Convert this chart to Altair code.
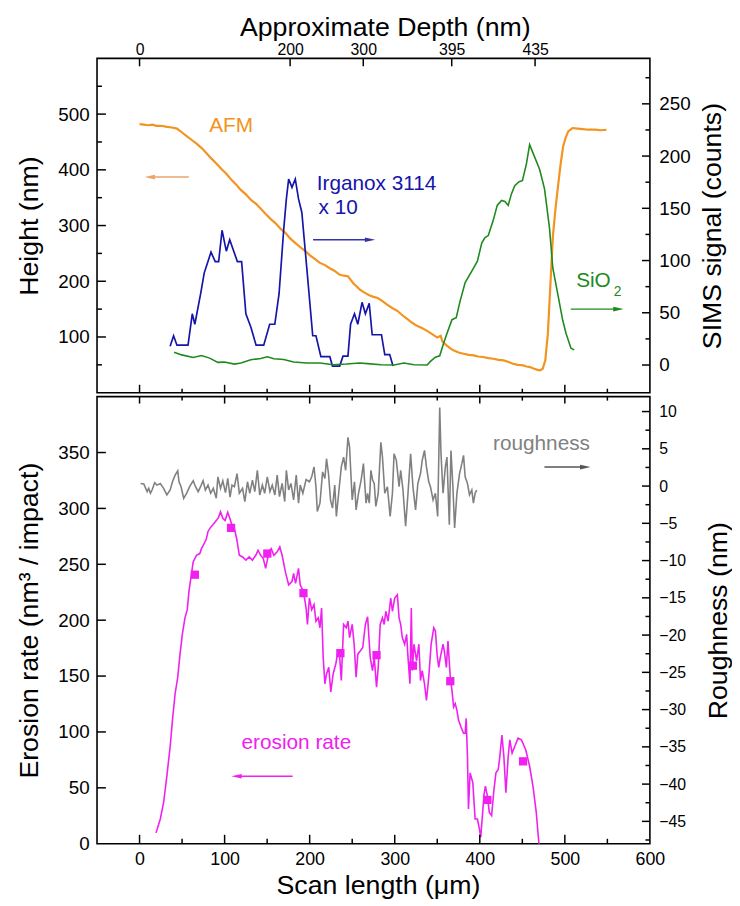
import altair as alt
import pandas as pd

FONT = "Liberation Sans"
W, H1, H2 = 559, 338, 452

# ---------------- data ----------------
afm_x = [0, 5, 10, 15, 20, 26, 32, 38, 44, 50, 55, 61, 67, 73, 78, 84, 90, 96, 102, 108, 114, 119, 125,
         131, 137, 142, 148, 154, 160, 166, 172, 177, 183, 189, 195, 200, 206, 212, 218, 224, 229, 235,
         240, 245, 248, 251, 255, 259, 264, 270, 275, 280, 286, 291, 297, 303, 309, 315, 320, 326, 332,
         338, 344, 350, 354, 356, 361, 365, 369, 375, 381, 387, 393, 398, 404, 410, 416, 422, 428, 434,
         439, 445, 451, 455, 459, 464, 468, 471, 474, 477, 480, 483, 486, 489, 492, 495, 498, 501, 504,
         509, 515, 521, 528, 536, 542, 549]
afm_y = [482, 481, 480, 481, 479, 479, 477, 476, 474, 467, 461, 454, 447, 439, 431, 421, 412, 402, 393,
         382, 373, 364, 356, 346, 339, 331, 321, 312, 304, 294, 286, 277, 269, 261, 254, 247, 240, 233,
         229, 223, 219, 212, 210, 209, 203, 197, 191, 185, 180, 175, 172, 170, 164, 158, 152, 147, 139,
         132, 126, 120, 116, 111, 105, 99, 102, 92, 85, 80, 76, 72, 70, 68, 67, 65, 64, 62, 61, 59, 58,
         55, 52, 50, 49, 47, 46, 43, 41, 40, 43, 58, 105, 194, 282, 330, 371, 410, 442, 458, 469, 475,
         474, 473, 472, 472, 471, 472]

irg_x = [36, 40, 44, 57, 62, 65, 72, 76, 84, 89, 93, 97, 102, 106, 115, 120, 125, 131, 137, 146, 153,
         159, 164, 169.5, 172.6, 175.3, 179.2, 183.1, 186.9, 190.8, 196.6, 203.6, 207.4, 213.2, 223.7,
         226.8, 235.3, 239.2, 245, 248.1, 252.7, 256.6, 261.6, 265.5, 270, 273.5, 284.4, 288.3, 294.1, 298]
irg_y = [18, 28, 19, 19, 49, 39, 69, 88, 108, 99, 99, 129, 109, 120, 99, 99, 49, 36, 19, 19, 39, 39, 68,
         130, 159, 178, 170, 178, 159, 146, 93, 28, 28, 8, 8, -1, -1, 8.5, 8.5, 39, 49, 39, 60, 49, 59,
         29, 29, 10, 10, -1]

sio_x = [40.6, 49.5, 63.1, 72.8, 82.4, 92.1, 99.8, 111.5, 119.2, 130.8, 142.4, 150.2, 157.9, 169.5,
         181.1, 196.6, 212.1, 227.6, 243.0, 258.5, 268.1, 283.7, 299.2, 310.9, 322.6, 338.1, 342.0,
         347.8, 352.9, 357.5, 361.4, 367.3, 372.3, 377.0, 382.8, 390.6, 397.2, 402.3, 406.1, 410.0,
         415.9, 420.5, 425.6, 429.5, 433.4, 437.2, 441.1, 446.2, 450.1, 454.7, 458.6, 462.5, 470.3,
         476.1, 482.0, 485.8, 491.7, 497.5, 501.4, 507.2, 511.1]
sio_y = [12.3, 9.7, 7.2, 9.1, 6.6, 2.5, 2.8, 0.9, 1.9, 5.0, 6.3, 7.9, 6.0, 5.3, 2.8, 1.9, 1.9, 0.3, 0.9,
         1.9, 1.3, 0.3, 0, 1.9, 0.3, 0, 3.5, 7.5, 8.8, 20.8, 30.2, 43.4, 45.3, 61.6, 78.9, 89.9, 99.4,
         116.7, 122.0, 123.9, 138.7, 152.8, 157.5, 156.6, 152.8, 163.8, 171.7, 175.5, 176.4, 192.1,
         211.0, 203.1, 187.4, 168.6, 130.8, 93.1, 67.9, 42.8, 30.2, 16.0, 14.5]

rough_x = [1.2, 5.0, 8.9, 10.8, 12.8, 14.7, 17.8, 20.5, 24.4, 28.3, 32.1, 36.0, 38.7, 41.8, 44.9, 46.4,
           48.8, 51.9, 55.3, 59.2, 63.1, 65.8, 68.9, 72.0, 74.7, 77.4, 80.5, 83.6, 86.7, 90.2, 92.1,
           95.2, 97.9, 101.0, 103.7, 106.4, 108.7, 111.5, 114.6, 117.3, 121.1, 123.8, 126.9, 129.6,
           132.7, 135.5, 138.5, 141.3, 144.4, 147.1, 150.2, 153.3, 156.0, 159.1, 161.8, 164.5, 167.6,
           170.7, 172.6, 175.3, 178.0, 181.1, 184.2, 186.9, 188.9, 192.0, 195.8, 199.7, 202.4, 205.1,
           207.4, 209.0, 212.1, 215.2, 217.9, 219.8, 222.1, 224.5, 226.8, 229.5, 231.4, 234.1, 237.2,
           239.9, 242.3, 245.0, 246.9, 250.0, 252.7, 254.6, 257.4, 260.5, 263.2, 266.3, 268.1, 270.1,
           272.0, 274.0, 275.9, 277.8, 280.6, 283.7, 285.6, 288.3, 291.4, 294.6, 297.3, 299.2, 301.9,
           305.1, 307.0, 309.7, 312.8, 315.6, 318.7, 321.4, 324.5, 327.2, 330.3, 332.3, 335.0, 337.3,
           340.0, 342.0, 345.1, 347.8, 350.5, 352.9, 354.4, 356.8, 359.5, 361.4, 364.2, 366.1, 368.4,
           370.4, 373.1, 376.2, 378.9, 380.9, 382.8, 385.5, 387.9, 390.6, 392.5, 394.5, 396.4]
rough_y = [0.35, 0.27, -0.75, -0.31, -0.97, -0.53, 0.44, 0.13, 0.35, -0.31, -1.19, -0.53, 0.58, 1.46,
           2.04, 0.58, -0.09, -1.64, -0.97, 0, 0.71, -0.09, -0.75, 0, 0.71, -0.53, 0.13, -0.97, -0.31,
           -1.64, 1.24, -0.31, 0.71, -0.88, 1.02, -1.50, 0.13, -0.09, 1.68, -0.97, -0.31, -2.08, 0.58,
           -0.97, 0.80, -0.75, 2.12, -1.19, 0.13, -0.97, 1.24, -0.75, 0.13, -1.19, 1.46, -1.42, 0.35,
           -2.08, 2.12, -0.53, 0.35, -1.86, 1.46, -2.30, 0.13, -0.97, 0.88, 0.58, 1.24, 2.57, -0.09,
           -3.41, -2.30, 1.90, 1.02, 3.67, 1.68, -1.86, -2.96, 0.13, -4.07, -0.97, 2.57, 3.89, 2.12,
           6.55, 5.22, -1.86, 0.58, -3.19, -0.97, 0.80, 3.01, -2.30, -0.97, -2.30, 2.12, 0.80, 0.35,
           -2.74, -0.97, 5.88, 3.89, -0.97, -0.09, -4.07, -0.97, 4.34, 3.45, -0.09, 2.12, -0.53, -5.40,
           -0.97, 4.34, -0.09, -3.19, 0.35, 1.68, 3.45, 4.78, 2.57, 0.58, -0.09, -1.86, -0.97, -4.07,
           10.53, 4.34, -0.97, 2.57, 3.89, -5.18, 4.78, -0.09, -5.62, -0.97, 1.68, 3.01, 4.12, 1.24,
           0.35, -1.19, -0.53, -2.30, -0.97, -0.53]

ero_x = [19.4, 24.4, 28.3, 32.1, 36.0, 38.7, 41.8, 44.9, 47.6, 50.3, 53.4, 56.1, 58.1, 60.0, 63.1,
         67.0, 70.8, 72.8, 75.9, 78.6, 80.5, 83.6, 86.3, 90.2, 92.9, 95.2, 97.9, 100.6, 103.7, 106.4,
         108.7, 111.5, 114.2, 117.3, 121.1, 125.0, 128.9, 132.7, 136.6, 139.3, 142.4, 145.5, 148.2,
         150.2, 152.1, 154.8, 157.9, 161.8, 164.9, 167.6, 171.4, 175.3, 179.2, 181.1, 183.4, 186.9,
         188.9, 192.7, 195.8, 197.4, 199.7, 202.4, 205.1, 207.4, 210.1, 212.1, 214.0, 215.9, 217.9,
         219.8, 222.5, 224.8, 227.6, 230.7, 233.4, 235.3, 237.2, 239.9, 243.0, 245.0, 246.9, 250.0,
         252.3, 254.6, 256.6, 259.7, 262.4, 265.5, 268.1, 271.2, 273.9, 275.9, 278.6, 280.6, 282.9,
         285.6, 287.6, 289.5, 292.2, 295.3, 297.3, 300.0, 303.1, 305.1, 307.0, 308.9, 311.7, 314.0,
         315.6, 317.9, 319.5, 320.7, 322.6, 325.7, 328.4, 330.3, 332.3, 335.0, 337.3, 340.0, 342.8,
         345.9, 347.8, 349.8, 351.7, 353.6, 356.8, 358.3, 360.7, 362.6, 365.3, 367.3, 369.2, 371.1,
         373.1, 375.0, 377.8, 380.9, 382.8, 384.0, 385.5, 386.7, 388.6, 391.8, 394.5, 397.2, 399.5,
         401.1, 403.4, 405.0, 406.6, 408.9, 411.2, 413.9, 416.7, 419.0, 421.7, 423.6, 426.0, 428.3,
         430.7, 433.4, 435.3, 438.0, 441.1, 445.0, 448.9, 454.0, 458.6, 462.5, 466.4, 469.5, 472.0]
ero_y = [9.7, 22.1, 36.9, 60.5, 87.0, 110.6, 134.2, 149.0, 169.6, 187.3, 202.1, 209.4, 225.7, 236.0,
         252.2, 258.1, 259.6, 264.0, 268.4, 272.9, 279.4, 283.2, 285.3, 289.1, 292.0, 297.1, 291.2,
         289.1, 296.5, 290.6, 284.7, 281.7, 272.9, 258.1, 256.6, 253.7, 256.6, 253.7, 258.1, 262.5,
         258.1, 255.2, 246.3, 253.7, 261.1, 264.0, 258.1, 261.1, 265.5, 258.1, 243.4, 231.6, 234.5,
         241.9, 233.0, 246.3, 231.6, 225.7, 210.9, 196.2, 219.8, 209.4, 213.9, 199.1, 202.1, 193.2,
         210.9, 166.7, 143.1, 151.9, 157.8, 135.7, 151.9, 160.8, 172.6, 166.7, 146.0, 196.2, 193.2,
         199.1, 184.4, 196.2, 178.5, 149.0, 169.6, 172.6, 175.5, 196.2, 203.0, 166.7, 154.9, 166.7,
         140.1, 157.8, 196.2, 202.1, 196.2, 208.0, 199.1, 219.8, 208.0, 219.8, 222.7, 202.1, 196.2,
         184.4, 178.5, 187.3, 166.7, 143.1, 210.9, 154.9, 178.5, 163.7, 178.5, 146.0, 154.9, 143.1,
         128.3, 149.0, 178.5, 193.2, 190.3, 169.6, 157.8, 166.7, 178.5, 172.6, 157.8, 181.4, 149.0,
         137.2, 122.4, 125.4, 119.5, 110.6, 104.7, 98.8, 98.8, 112.1, 78.2, 31.0, 63.4, 54.6, 22.1,
         22.1, 13.3, 5.9, 28.0, 44.2, 51.6, 42.8, 28.0, 25.1, 48.7, 63.4, 66.4, 78.2, 97.3, 78.2,
         45.7, 78.2, 92.9, 81.1, 87.0, 94.4, 92.9, 84.1, 69.3, 51.6, 28.0, 0, -12]

mark_x = [65.0, 107.6, 150.2, 192.7, 236.1, 278.6, 321.4, 365.3, 408.9, 450.9]
mark_y = [240.7, 282.6, 259.6, 224.2, 170.5, 168.7, 159.3, 145.4, 39.2, 73.7]

depth_pos = [0, 177, 263, 367, 465]
depth_lab = ["0", "200", "300", "395", "435"]

x_major = [0, 100, 200, 300, 400, 500]
x_minor = [50, 150, 250, 350, 450, 550]
x_labels = [0, 100, 200, 300, 400, 500, 600]
h_major = [100, 200, 300, 400, 500]
h_minor = [50, 150, 250, 350, 450, 550]
s_major = [0, 50, 100, 150, 200, 250]
s_minor = [25, 75, 125, 175, 225, 275]
e_major = [50, 100, 150, 200, 250, 300, 350]
e_labels = [0, 50, 100, 150, 200, 250, 300, 350]
r_major = [-45, -40, -35, -30, -25, -20, -15, -10, -5, 0, 5, 10]
r_minor = [-47.5, -42.5, -37.5, -32.5, -27.5, -22.5, -17.5, -12.5, -7.5, -2.5, 2.5, 7.5]

# annotations (data coordinates of the panel's left axis)
afm_txt = (107.6, 478)
afm_arrow = (58, 12, 387)
irg_txt = (208.3, 375)
irg_txt2 = (210.5, 331)
irg_arrow = (204, 271, 274.5)
sio_txt = (513.3, 201)
sio_sub = (557.5, 180)
sio_arrow = (507, 563, 150)
rough_txt = (415.5, 357.5)
rough_arrow = (476, 524, 337)
ero_txt = (119.9, 90.3)
ero_arrow = (180, 114, 60.4)

C_ORANGE = "#F39320"
C_BLUE = "#1515AA"
C_GREEN = "#1E8A1E"
C_GRAY = "#808080"
C_MAG = "#F020F0"

# ---------------- scales ----------------
xs = alt.Scale(domain=[-50, 600], nice=False, zero=False)
hs = alt.Scale(domain=[0, 600], nice=False, zero=False)
ss = alt.Scale(domain=[-26.5, 293.5], nice=False, zero=False)
es = alt.Scale(domain=[0, 400], nice=False, zero=False)
rs = alt.Scale(domain=[-48, 12], nice=False, zero=False)

lab_expr = "''"
for p, l in reversed(list(zip(depth_pos, depth_lab))):
    lab_expr = f"datum.value == {p} ? '{l}' : ({lab_expr})"

TITLE_FS = 27
top_x_axis = alt.Axis(orient="top", values=depth_pos, labelExpr=lab_expr, ticks=False, domain=False,
                      grid=False, title="Approximate Depth (nm)", labelFontSize=16, labelPadding=1,
                      titleFontSize=TITLE_FS, titlePadding=0, labelFlush=False, titleX=291)
bot_x_axis = alt.Axis(orient="bottom", values=x_labels, format="d", ticks=False, domain=False,
                      grid=False, title="Scan length (\u03bcm)", labelFontSize=18, labelPadding=7,
                      titleFontSize=TITLE_FS, titlePadding=4, labelFlush=False, titleX=284)
h_axis = alt.Axis(orient="left", values=h_major, ticks=False, domain=False, grid=False,
                  title="Height (nm)", labelFontSize=19, labelPadding=8, titleFontSize=TITLE_FS,
                  titlePadding=14, labelFlush=False)
s_axis = alt.Axis(orient="right", values=s_major, ticks=False, domain=False, grid=False,
                  title="SIMS signal (counts)", labelFontSize=19, labelPadding=9, titleFontSize=TITLE_FS,
                  titlePadding=10, titleAngle=270, titleBaseline="top", labelFlush=False)
e_axis = alt.Axis(orient="left", values=e_labels, ticks=False, domain=False, grid=False,
                  title="Erosion rate (nm\u00b3 / impact)", labelFontSize=19, labelPadding=8,
                  titleFontSize=TITLE_FS, titlePadding=14, labelFlush=False)
r_axis = alt.Axis(orient="right", values=r_major, ticks=False, domain=False, grid=False,
                  title="Roughness (nm)", labelFontSize=16, labelPadding=9, titleFontSize=TITLE_FS,
                  titlePadding=20, titleAngle=270, titleBaseline="top", labelFlush=False)


def X(field, ax):
    return alt.X(field, scale=xs, axis=ax)


def Y(field, ysc, ax):
    return alt.Y(field, scale=ysc, axis=ax)


def line(xv, yv, color, ysc, xa, ya, sw=1.6):
    df = pd.DataFrame({"x": xv, "y": yv, "i": list(range(len(xv)))})
    return alt.Chart(df).mark_line(color=color, strokeWidth=sw, clip=True).encode(
        x=X("x:Q", xa), y=Y("y:Q", ysc, ya), order="i:Q")


def text(pos, t, color, ysc, xa, ya, size=21, align="left"):
    df = pd.DataFrame({"x": [pos[0]], "y": [pos[1]], "t": [t]})
    return alt.Chart(df).mark_text(color=color, fontSize=size, align=align,
                                   baseline="middle", font=FONT).encode(
        x=X("x:Q", xa), y=Y("y:Q", ysc, ya), text="t:N")


def arrow(spec, color, ysc, xa, ya):
    x0, x1, yv = spec
    df = pd.DataFrame({"x": [x0, x1], "y": [yv, yv]})
    ln = alt.Chart(df).mark_line(color=color, strokeWidth=1.5).encode(
        x=X("x:Q", xa), y=Y("y:Q", ysc, ya))
    shape = "M-1,-0.45L1,0L-1,0.45Z" if x1 > x0 else "M1,-0.45L-1,0L1,0.45Z"
    hd = alt.Chart(pd.DataFrame({"x": [x1], "y": [yv]})).mark_point(
        shape=shape, filled=True, color=color, size=110, opacity=1).encode(
        x=X("x:Q", xa), y=Y("y:Q", ysc, ya))
    return [ln, hd]


def xticks(vals, y0, y1, xa):
    return alt.Chart(pd.DataFrame({"x": vals})).mark_rule(color="black", strokeWidth=1.5).encode(
        x=X("x:Q", xa), y=alt.value(y0), y2=alt.value(y1))


def yticks(vals, ysc, x0, x1, ya):
    return alt.Chart(pd.DataFrame({"y": vals})).mark_rule(color="black", strokeWidth=1.5).encode(
        y=Y("y:Q", ysc, ya), x=alt.value(x0), x2=alt.value(x1))


# ---------------- top panel ----------------
TX = top_x_axis
top_left = alt.layer(
    line(afm_x, afm_y, C_ORANGE, hs, TX, h_axis, sw=2.2),
    yticks(h_major, hs, 0, 9, h_axis), yticks(h_minor, hs, 0, 5, h_axis),
    xticks(x_major, H1 - 8, H1, TX), xticks(x_minor, H1 - 4, H1, TX),
    xticks(depth_pos, 0, 8, TX),
    text(afm_txt, "AFM", C_ORANGE, hs, TX, h_axis, align="center"),
    *arrow(afm_arrow, "#EBA56A", hs, TX, h_axis),
    text(irg_txt, "Irganox 3114", C_BLUE, hs, TX, h_axis),
    text(irg_txt2, "x 10", C_BLUE, hs, TX, h_axis),
    *arrow(irg_arrow, "#3333AA", hs, TX, h_axis),
    text(sio_txt, "SiO", C_GREEN, hs, TX, h_axis),
    text(sio_sub, "2", C_GREEN, hs, TX, h_axis, size=14),
    *arrow(sio_arrow, C_GREEN, hs, TX, h_axis),
)
top_right = alt.layer(
    line(irg_x, irg_y, C_BLUE, ss, TX, s_axis, sw=1.7),
    line(sio_x, sio_y, C_GREEN, ss, TX, s_axis, sw=1.6),
    yticks(s_major, ss, W - 8, W, s_axis), yticks(s_minor, ss, W - 4.5, W, s_axis),
)
top = alt.layer(top_left, top_right).resolve_scale(y="independent").properties(width=W, height=H1)

# ---------------- bottom panel ----------------
BX = bot_x_axis
bot_left = alt.layer(
    line(ero_x, ero_y, C_MAG, es, BX, e_axis, sw=1.6),
    alt.Chart(pd.DataFrame({"x": mark_x, "y": mark_y})).mark_square(
        color=C_MAG, size=70, opacity=1).encode(x=X("x:Q", BX), y=Y("y:Q", es, e_axis)),
    yticks(e_major, es, 0, 9, e_axis),
    xticks(x_major, H2 - 9, H2, BX), xticks(x_minor, H2 - 5, H2, BX),
    xticks(x_major, 0, 7, BX), xticks(x_minor, 0, 4, BX),
    text(rough_txt, "roughness", C_GRAY, es, BX, e_axis),
    *arrow(rough_arrow, "#555555", es, BX, e_axis),
    text(ero_txt, "erosion rate", C_MAG, es, BX, e_axis),
    *arrow(ero_arrow, C_MAG, es, BX, e_axis),
)
bot_right = alt.layer(
    line(rough_x, rough_y, C_GRAY, rs, BX, r_axis, sw=1.6),
    yticks(r_major, rs, W - 8, W, r_axis), yticks(r_minor, rs, W - 4.5, W, r_axis),
)
bottom = alt.layer(bot_left, bot_right).resolve_scale(y="independent").properties(width=W, height=H2)

chart = alt.vconcat(top, bottom, spacing=0).properties(
    padding={"left": 7, "top": 0, "right": 0, "bottom": 0}
).configure_view(stroke="black", strokeWidth=1.6).configure_axis(
    labelFont=FONT, titleFont=FONT, titleFontWeight="normal", labelColor="black", titleColor="black"
).configure_text(font=FONT)

chart.save("out.html", embed_options={"renderer": "svg", "actions": False})
